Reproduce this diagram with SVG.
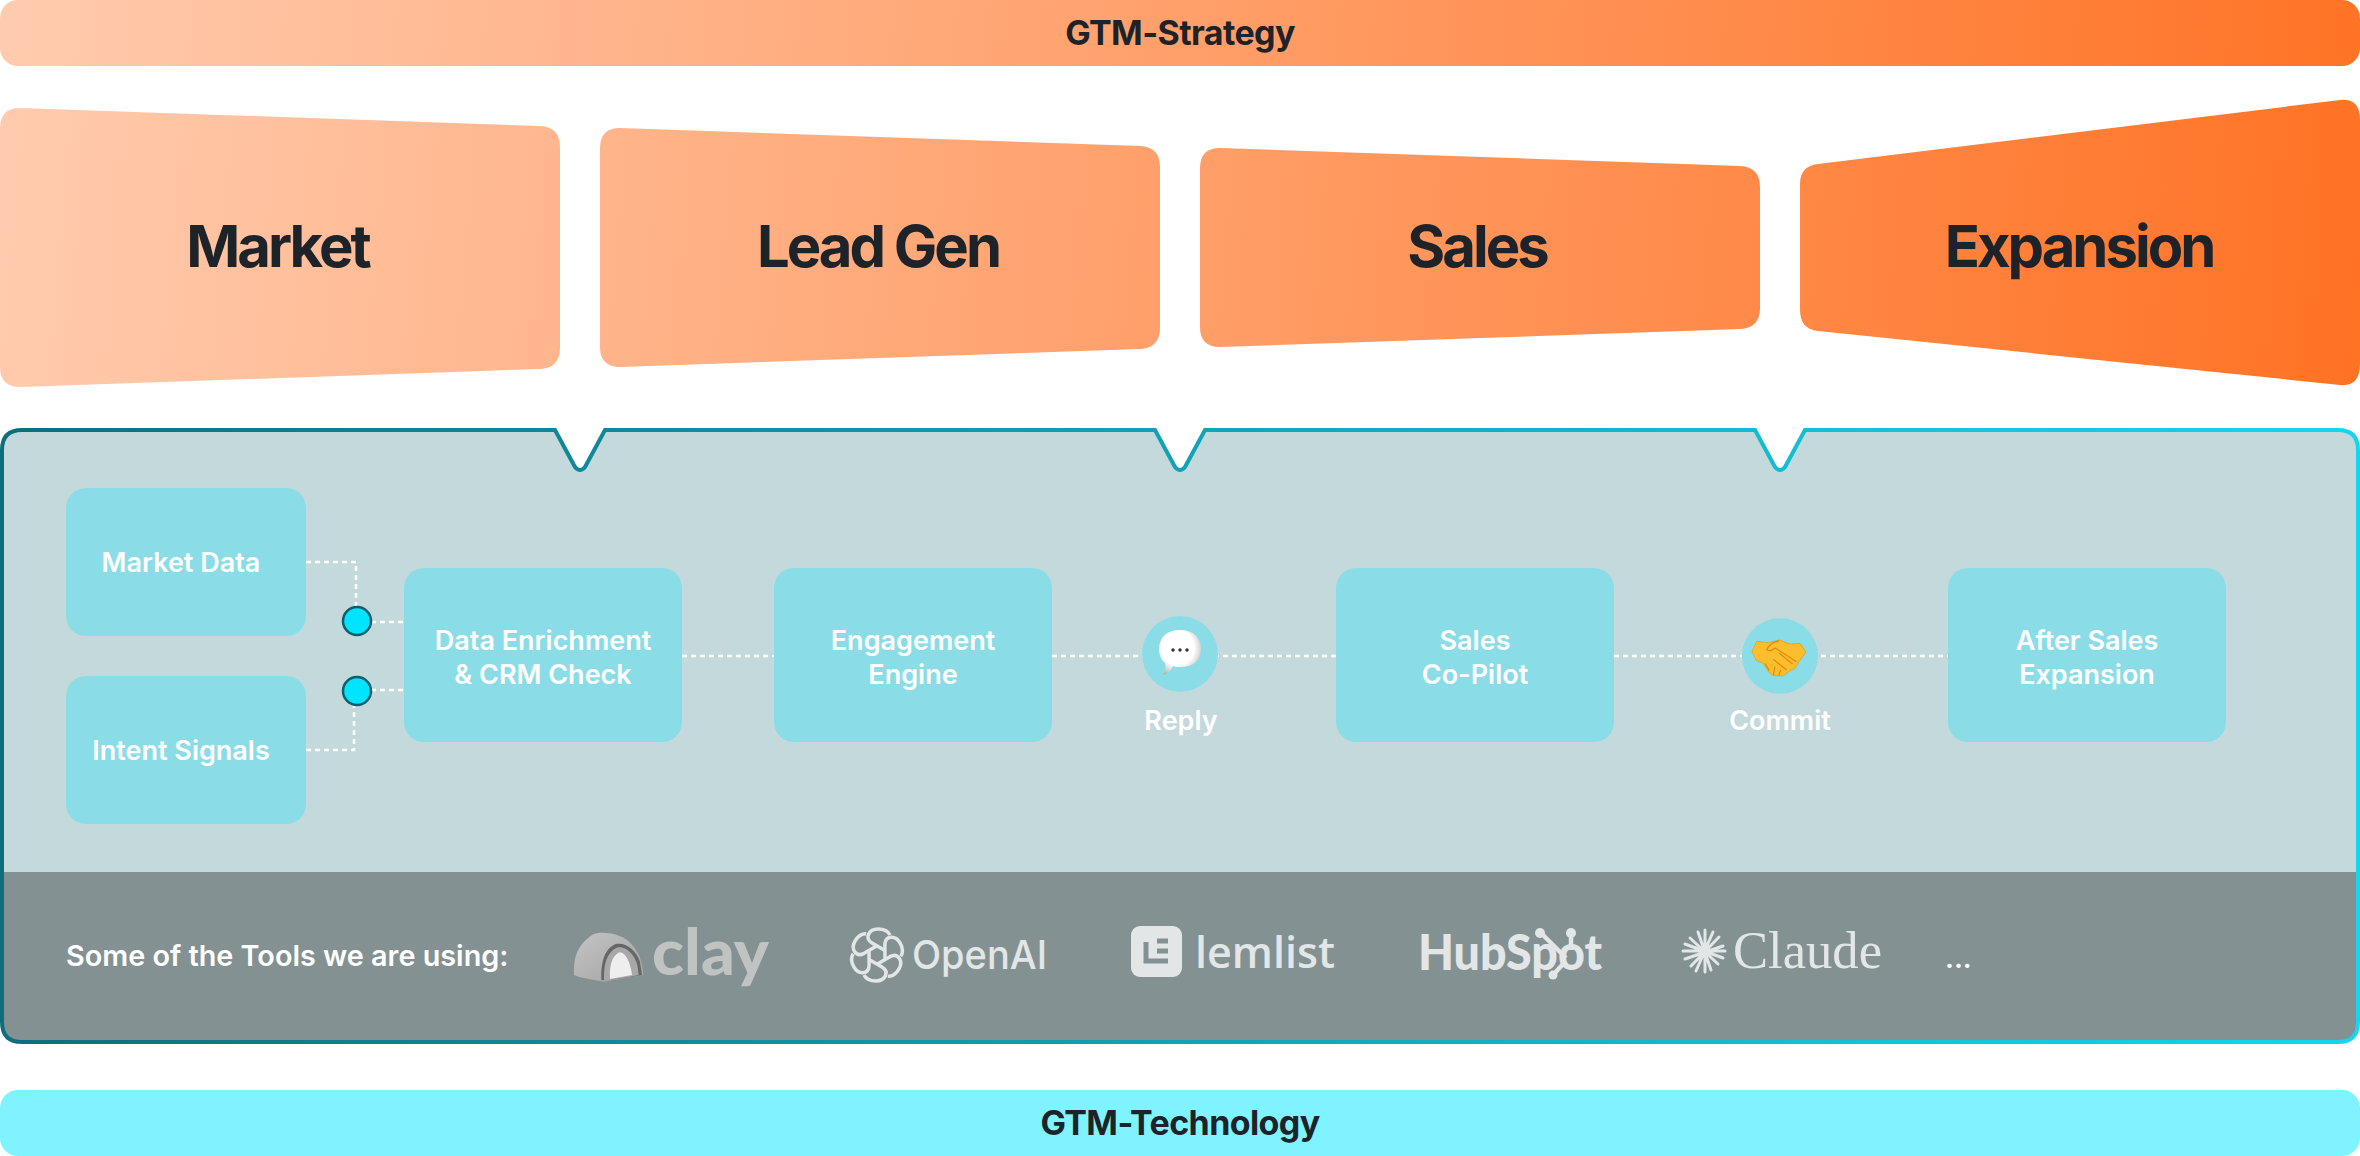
<svg xmlns="http://www.w3.org/2000/svg" width="2360" height="1156" viewBox="0 0 2360 1156">
<defs>
<linearGradient id="orange" gradientUnits="userSpaceOnUse" x1="0" y1="100" x2="2360" y2="300"><stop offset="0" stop-color="#FFCBAE"/><stop offset="1" stop-color="#FF7325"/></linearGradient>
<linearGradient id="rim" gradientUnits="userSpaceOnUse" x1="0" y1="0" x2="2360" y2="0"><stop offset="0" stop-color="#0E6F7C"/><stop offset="1" stop-color="#15D6EF"/></linearGradient>
<linearGradient id="archG" x1="0" y1="0" x2="1" y2="1"><stop offset="0" stop-color="#C4C4C4"/><stop offset="1" stop-color="#A2A2A2"/></linearGradient>
<radialGradient id="bubbleG" cx="0.45" cy="0.4" r="0.65"><stop offset="0.6" stop-color="#FFFFFF"/><stop offset="1" stop-color="#B5B5B5"/></radialGradient>
<clipPath id="panelClip"><path d="M2,450 Q2,430 22,430 L2338,430 Q2358,430 2358,450 L2358,1022 Q2358,1042 2338,1042 L22,1042 Q2,1042 2,1022 Z"/></clipPath>
<path id="petal" d="M8,-4.6 L-5,-12 C-13,-17 -8,-26 1,-26 C6,-26 11,-24 13,-20"/>
</defs>
<style>
.t{font-family:Inter,"Liberation Sans",sans-serif}
.dark{fill:#1E2229;font-weight:700;text-anchor:middle}
.bar{font-size:34px;letter-spacing:-0.6px}
.stage{font-size:58px;letter-spacing:-3px}
.box{fill:#8ADDE7}
.lab{fill:#FFFFFF;font-size:27px;font-weight:600;text-anchor:middle}
.dash{fill:none;stroke:#FFFFFF;stroke-width:2.5;stroke-dasharray:5 4}
.dot{fill:#00E5FF;stroke:#0E5F6E;stroke-width:2.5}
.logo{fill:#E2E6E6}
</style>

<g id="gtm-strategy"><rect x="0" y="0" width="2360" height="66" rx="18" fill="url(#orange)"/><text class="t dark bar" x="1180" y="45">GTM-Strategy</text></g>

<g id="stage-market"><path fill="url(#orange)" d="M0,128 Q0,108 20,108 L540,126 Q560,127 560,147 L560,348 Q560,368 540,369 L20,387 Q0,387 0,367 Z"/><text class="t dark stage" x="277.5" y="267">Market</text></g>
<g id="stage-leadgen"><path fill="url(#orange)" d="M600,148 Q600,128 620,128 L1140,146 Q1160,147 1160,167 L1160,328 Q1160,348 1140,349 L620,367 Q600,367 600,347 Z"/><text class="t dark stage" x="878" y="267">Lead Gen</text></g>
<g id="stage-sales"><path fill="url(#orange)" d="M1200,168 Q1200,148 1220,148 L1740,166 Q1760,167 1760,187 L1760,308 Q1760,328 1740,329 L1220,347 Q1200,347 1200,327 Z"/><text class="t dark stage" x="1477" y="267">Sales</text></g>
<g id="stage-expansion"><path fill="url(#orange)" d="M1800,184 Q1800,166 1818,164 L2340,100 Q2360,98 2360,120 L2360,364 Q2360,387 2340,385 L1818,331 Q1800,329 1800,310 Z"/><text class="t dark stage" x="2079" y="267">Expansion</text></g>

<g id="panel">
<path id="panel-fill" fill="#C4D9DC" d="M22,430 L555,430 L575,467 Q580,473 585,467 L605,430 L1155,430 L1175,467 Q1180,473 1185,467 L1205,430 L1755,430 L1775,467 Q1780,473 1785,467 L1805,430 L2338,430 Q2358,430 2358,450 L2358,1022 Q2358,1042 2338,1042 L22,1042 Q2,1042 2,1022 L2,450 Q2,430 22,430 Z"/>
<rect id="tools-strip" x="2" y="872" width="2356" height="170" fill="#839193" clip-path="url(#panelClip)"/>
<path id="panel-rim" fill="none" stroke="url(#rim)" stroke-width="4" d="M22,430 L555,430 L575,467 Q580,473 585,467 L605,430 L1155,430 L1175,467 Q1180,473 1185,467 L1205,430 L1755,430 L1775,467 Q1780,473 1785,467 L1805,430 L2338,430 Q2358,430 2358,450 L2358,1022 Q2358,1042 2338,1042 L22,1042 Q2,1042 2,1022 L2,450 Q2,430 22,430 Z"/>
</g>

<g id="connectors">
<path class="dash" d="M306,562 H356 V607"/>
<path class="dash" d="M371,622 H404"/>
<path class="dash" d="M306,750 H354 V705"/>
<path class="dash" d="M371,690 H404"/>
<path class="dash" d="M682,656 H774"/>
<path class="dash" d="M1052,656 H1336"/>
<path class="dash" d="M1614,656 H1948"/>
</g>

<g id="market-data"><rect class="box" x="66" y="488" width="240" height="148" rx="20"/><text class="t lab" x="181" y="572">Market Data</text></g>
<g id="intent-signals"><rect class="box" x="66" y="676" width="240" height="148" rx="20"/><text class="t lab" x="181" y="760">Intent Signals</text></g>
<g id="junction-1"><circle class="dot" cx="357" cy="621" r="14"/></g>
<g id="junction-2"><circle class="dot" cx="357" cy="691" r="14"/></g>
<g id="data-enrichment"><rect class="box" x="404" y="568" width="278" height="174" rx="20"/><text class="t lab" x="543" y="650">Data Enrichment</text><text class="t lab" x="543" y="684">&amp; CRM Check</text></g>
<g id="engagement-engine"><rect class="box" x="774" y="568" width="278" height="174" rx="20"/><text class="t lab" x="913" y="650">Engagement</text><text class="t lab" x="913" y="684">Engine</text></g>
<g id="reply">
<circle class="box" cx="1180" cy="654" r="38"/>
<path fill="url(#bubbleG)" d="M1180,630 C1194,630 1201,638 1201,649 C1201,660 1194,667 1180,667 C1177,667 1175,667 1173,666 C1171,670 1168,674 1163,675 C1165,671 1166,667 1165,663 C1161,660 1159,655 1159,649 C1159,638 1166,630 1180,630 Z"/>
<circle cx="1173" cy="650" r="1.7" fill="#333"/><circle cx="1180" cy="650" r="1.7" fill="#333"/><circle cx="1187" cy="650" r="1.7" fill="#333"/>
<text class="t lab" x="1181" y="730">Reply</text>
</g>
<g id="sales-copilot"><rect class="box" x="1336" y="568" width="278" height="174" rx="20"/><text class="t lab" x="1475" y="650">Sales</text><text class="t lab" x="1475" y="684">Co-Pilot</text></g>
<g id="commit">
<circle class="box" cx="1780" cy="656" r="38"/>
<g transform="translate(1740 620) scale(.3333)">
<path fill="#FDBD2C" stroke="#E39A12" stroke-width="2" d="M36,95 L50,64 L85,68 L118,60 L150,72 L180,70 L198,97 L176,126 L165,145 L150,152 L130,168 L100,167 L85,155 L70,130 L50,122 Z"/>
<path fill="none" stroke="#D98C0C" stroke-width="3.5" d="M118,62 Q92,68 80,88 Q90,98 105,84 L170,125 M118,100 L158,132 M100,118 L140,150 M75,130 L88,152 M105,140 L100,165 M122,150 L116,167"/>
</g>
<text class="t lab" x="1780" y="730">Commit</text>
</g>
<g id="after-sales"><rect class="box" x="1948" y="568" width="278" height="174" rx="20"/><text class="t lab" x="2087" y="650">After Sales</text><text class="t lab" x="2087" y="684">Expansion</text></g>

<g id="tools">
<text class="t" x="66" y="966" fill="#FFFFFF" font-size="28.8" font-weight="600">Some of the Tools we are using:</text>
<g id="tool-clay">
<g transform="translate(560 915) scale(.3333)">
<path fill="url(#archG)" d="M42,180 C40,130 50,90 100,58 C130,48 175,55 205,78 C235,105 248,140 250,180 L130,200 L60,187 Z"/>
<path fill="#666" d="M124,196 C122,150 130,105 165,88 C195,80 228,105 240,140 L246,180 L215,185 L150,195 Z"/>
<path fill="#A8A8A8" d="M132,196 C130,150 140,112 170,98 C195,92 222,115 232,150 L236,180 L210,185 L150,195 Z"/>
<path fill="#EEEEEE" d="M150,192 C148,160 152,125 178,112 C200,112 212,150 216,180 Z"/>
</g>
<text x="652" y="975" fill="#C1C3C3" font-family="Lato,'Liberation Sans',sans-serif" font-weight="900" font-size="65" textLength="117" lengthAdjust="spacingAndGlyphs">clay</text>
</g>
<g id="tool-openai">
<g transform="translate(877 955)" fill="none" stroke="#E2E6E6" stroke-width="3.5">
<use href="#petal"/><use href="#petal" transform="rotate(60)"/><use href="#petal" transform="rotate(120)"/><use href="#petal" transform="rotate(180)"/><use href="#petal" transform="rotate(240)"/><use href="#petal" transform="rotate(300)"/>
</g>
<text class="logo" x="912" y="969" font-family="Inter,'Liberation Sans',sans-serif" font-weight="500" font-size="40" textLength="135" lengthAdjust="spacingAndGlyphs">OpenAI</text>
</g>
<g id="tool-lemlist">
<rect class="logo" x="1131" y="926" width="51" height="51" rx="9"/>
<path fill="none" stroke="#839193" stroke-width="5" d="M1146,942 V961 H1168 M1157,941 H1168 M1157,951 H1168"/>
<text class="logo" x="1195" y="968" font-family="'Open Sans','Liberation Sans',sans-serif" font-weight="600" font-size="44" textLength="140" lengthAdjust="spacingAndGlyphs">lemlist</text>
</g>
<g id="tool-hubspot">
<path fill="none" stroke="#E2E6E6" stroke-width="4.5" d="M1540,932 L1566,958 M1571,933 V950 M1553,975 L1563,964"/>
<circle class="logo" cx="1540" cy="933" r="5"/>
<circle class="logo" cx="1571" cy="933" r="5"/>
<circle class="logo" cx="1553" cy="975" r="4.5"/>
<text class="logo" x="1418" y="970" font-family="Lato,'Liberation Sans',sans-serif" font-weight="900" font-size="49" textLength="184" lengthAdjust="spacingAndGlyphs">HubSpot</text>
</g>
<g id="tool-claude">
<g transform="translate(1704 951)" stroke="#E2E6E6" stroke-width="3" stroke-linecap="round">
<path d="M1,-21 V21 M-21,0 H21 M-14,-13 L14,13 M-13,15 L15,-14 M-6,-19 L7,19 M9,-19 L-8,20 M-19,-7 L19,7 M-19,8 L19,-5"/>
</g>
<text class="logo" x="1733" y="968" font-family="'Liberation Serif',serif" font-size="52" textLength="149" lengthAdjust="spacingAndGlyphs">Claude</text>
</g>
<text class="t" x="1945" y="968" fill="#FFFFFF" font-size="28" font-weight="600">...</text>
</g>

<g id="gtm-technology"><rect x="0" y="1090" width="2360" height="66" rx="18" fill="#7FF3FF"/><text class="t dark bar" x="1180" y="1135">GTM-Technology</text></g>
</svg>
